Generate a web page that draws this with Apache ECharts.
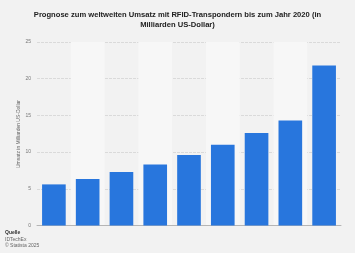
<!DOCTYPE html>
<html><head><meta charset="utf-8">
<script src="https://cdn.jsdelivr.net/npm/echarts@6/dist/echarts.min.js"></script>
<style>html,body{margin:0;padding:0;background:#f2f2f2;}#c{width:355px;height:253px;}</style>
</head><body><div id="c"></div>
<script>
const categories = ['2012','2013','2014','2015','2016','2017','2018','2019','2020'];
const values = [5.6, 6.35, 7.3, 8.3, 9.6, 11.0, 12.6, 14.3, 21.8];
const yTicks = [0, 5, 10, 15, 20, 25];
const titleText = 'Prognose zum weltweiten Umsatz mit RFID-Transpondern bis zum Jahr 2020 (in\nMilliarden US-Dollar)';
const yTitle = 'Umsatz in Milliarden US-Dollar';
const footer = ['Quelle', 'IDTechEx', '© Statista 2025'];

const chart = echarts.init(document.getElementById('c'), null, {renderer: 'canvas'});
chart.setOption({
  backgroundColor: '#f2f2f2',
  animation: false,
  title: {
    text: titleText, left: 'center', top: 5,
    textStyle: {fontFamily: 'Liberation Sans, Arial', fontSize: 7.6, fontWeight: 'bold', color: '#222', lineHeight: 10}
  },
  graphic: [
    {type: 'text', x: 19, y: 134, rotation: Math.PI / 2,
     style: {text: yTitle, font: '5px Liberation Sans', fill: '#666', align: 'center', verticalAlign: 'middle'}},
    {type: 'text', left: 5, top: 230, style: {text: footer[0], font: 'bold 5px Liberation Sans', fill: '#333'}},
    {type: 'text', left: 5, top: 237, style: {text: footer[1], font: '5px Liberation Sans', fill: '#666'}},
    {type: 'text', left: 5, top: 243, style: {text: footer[2], font: '5px Liberation Sans', fill: '#666'}}
  ],
  grid: {left: 37, right: 14, top: 42, bottom: 27.5},
  xAxis: {
    type: 'category', data: categories,
    axisLine: {lineStyle: {color: '#b5b5b5', width: 1}},
    axisTick: {show: false}, axisLabel: {show: false, interval: 0},
    splitArea: {show: true, interval: 0, areaStyle: {color: ['rgba(0,0,0,0)', '#f7f7f7']}}
  },
  yAxis: {
    type: 'value', min: yTicks[0], max: yTicks[yTicks.length-1], interval: 5,
    axisLine: {show: false}, axisTick: {show: false},
    axisLabel: {fontFamily: 'Liberation Sans', fontSize: 5, color: '#777', margin: 6},
    splitLine: {lineStyle: {color: '#dadada', width: 1, type: [3, 1]}}
  },
  series: [{
    type: 'bar', data: values, barCategoryGap: '30%',
    itemStyle: {color: '#2876dd'}
  }]
});
</script></body></html>
